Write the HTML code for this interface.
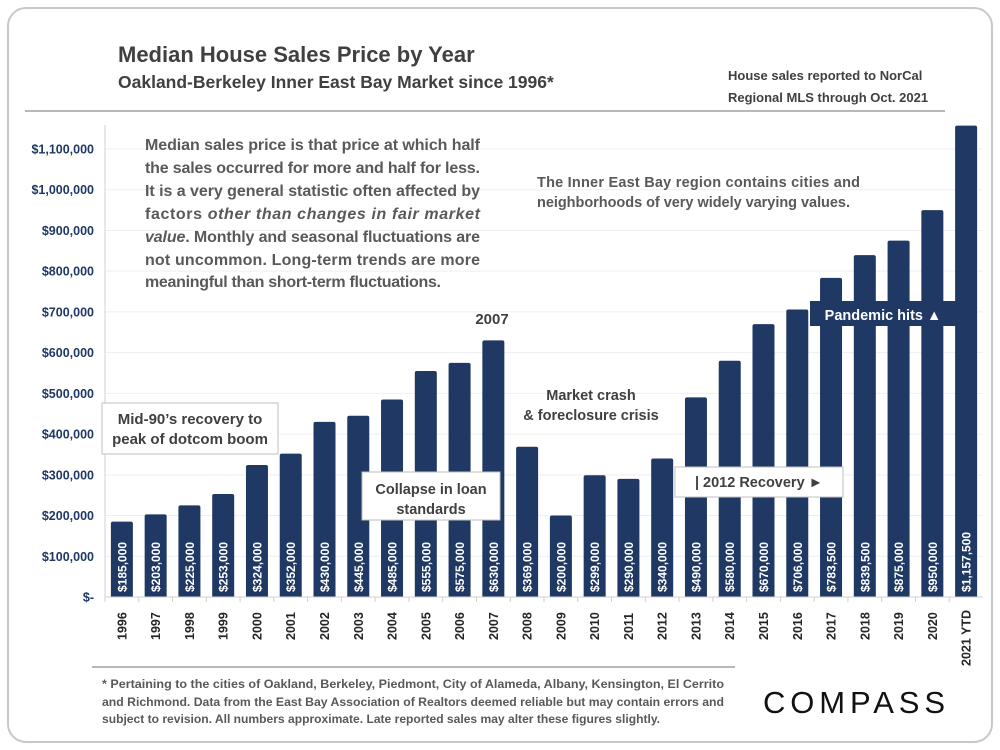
<!DOCTYPE html>
<html><head><meta charset="utf-8"><style>
html,body{margin:0;padding:0;background:#fff;}
svg{display:block;font-family:"Liberation Sans",sans-serif;}
</style></head><body>
<svg id="chart" width="1000" height="750" viewBox="0 0 1000 750">
<rect x="8" y="8" width="984" height="734" rx="18" fill="#fff" stroke="#c8c8c8" stroke-width="2"/>
<text x="118" y="62" font-size="22" font-weight="bold" fill="#404040">Median House Sales Price by Year</text>
<text x="118" y="88" font-size="17.5" font-weight="bold" fill="#404040">Oakland-Berkeley Inner East Bay Market since 1996*</text>
<text x="728" y="80" font-size="13" font-weight="bold" fill="#404040">House sales reported to NorCal</text>
<text x="728" y="102" font-size="13" font-weight="bold" fill="#404040">Regional MLS through Oct. 2021</text>
<line x1="25" y1="111" x2="945" y2="111" stroke="#a0a0a0" stroke-width="1.5"/>
<g id="grid"></g>
<g id="yaxis"></g>
<g id="bars"></g>
<g id="xaxis"></g>
<g font-size="16" font-weight="bold" fill="#595959">
<text x="145" y="150" textLength="335" lengthAdjust="spacing">Median sales price is that price at which half</text>
<text x="145" y="173" textLength="335" lengthAdjust="spacing">the sales occurred for more and half for less.</text>
<text x="145" y="196" textLength="335" lengthAdjust="spacing">It is a very general statistic often affected by</text>
<text x="145" y="219" textLength="335" lengthAdjust="spacing">factors <tspan font-style="italic">other than changes in fair market</tspan></text>
<text x="145" y="242" textLength="335" lengthAdjust="spacing"><tspan font-style="italic">value</tspan>. Monthly and seasonal fluctuations are</text>
<text x="145" y="265" textLength="335" lengthAdjust="spacing">not uncommon. Long-term trends are more</text>
<text x="145" y="287" textLength="296" lengthAdjust="spacing">meaningful than short-term fluctuations.</text>
</g>
<g font-size="14.5" font-weight="bold" fill="#595959">
<text x="537" y="187" textLength="323" lengthAdjust="spacing">The Inner East Bay region contains cities and</text>
<text x="537" y="207" textLength="313" lengthAdjust="spacing">neighborhoods of very widely varying values.</text>
</g>
<text x="492" y="324" font-size="15" font-weight="bold" fill="#404040" text-anchor="middle">2007</text>
<g>
<rect x="102" y="403" width="176" height="51" fill="#fff" stroke="#bfbfbf"/>
<text x="190" y="424" font-size="15" font-weight="bold" fill="#404040" text-anchor="middle">Mid-90’s recovery to</text>
<text x="190" y="444" font-size="15" font-weight="bold" fill="#404040" text-anchor="middle">peak of dotcom boom</text>
</g>
<g>
<rect x="362" y="472" width="138" height="48" fill="#fff" stroke="#bfbfbf"/>
<text x="431" y="494" font-size="14.5" font-weight="bold" fill="#404040" text-anchor="middle">Collapse in loan</text>
<text x="431" y="514" font-size="14.5" font-weight="bold" fill="#404040" text-anchor="middle">standards</text>
</g>
<g>
<text x="591" y="400" font-size="14.5" font-weight="bold" fill="#404040" text-anchor="middle">Market crash</text>
<text x="591" y="420" font-size="14.5" font-weight="bold" fill="#404040" text-anchor="middle">&amp; foreclosure crisis</text>
</g>
<g>
<rect x="675" y="467" width="168" height="30" fill="#fff" stroke="#bfbfbf"/>
<text x="759" y="487" font-size="14.5" font-weight="bold" fill="#404040" text-anchor="middle">| 2012 Recovery ►</text>
</g>
<g>
<rect x="810" y="301" width="147" height="25" fill="#1f3864"/>
<text x="883" y="320" font-size="14.5" font-weight="bold" fill="#fff" text-anchor="middle">Pandemic hits ▲</text>
</g>
<line x1="92" y1="667" x2="735" y2="667" stroke="#a0a0a0" stroke-width="1.5"/>
<g font-size="11.5" font-weight="bold" fill="#595959">
<text x="102" y="688" textLength="622" lengthAdjust="spacingAndGlyphs">* Pertaining to the cities of Oakland, Berkeley, Piedmont, City of Alameda, Albany, Kensington, El Cerrito</text>
<text x="102" y="706" textLength="622" lengthAdjust="spacingAndGlyphs">and Richmond. Data from the East Bay Association of Realtors deemed reliable but may contain errors and</text>
<text x="102" y="723" textLength="558" lengthAdjust="spacingAndGlyphs">subject to revision. All numbers approximate. Late reported sales may alter these figures slightly.</text>
</g>
<text x="763" y="713" font-size="31" fill="#111" textLength="182" lengthAdjust="spacing">COMPASS</text>
</svg>
<script>
const categories = ["1996","1997","1998","1999","2000","2001","2002","2003","2004","2005","2006","2007","2008","2009","2010","2011","2012","2013","2014","2015","2016","2017","2018","2019","2020","2021 YTD"];
const prices = [185000,203000,225000,253000,324000,352000,430000,445000,485000,555000,575000,630000,369000,200000,299000,290000,340000,490000,580000,670000,706000,783500,839500,875000,950000,1157500];
const priceLabels = ["$185,000","$203,000","$225,000","$253,000","$324,000","$352,000","$430,000","$445,000","$485,000","$555,000","$575,000","$630,000","$369,000","$200,000","$299,000","$290,000","$340,000","$490,000","$580,000","$670,000","$706,000","$783,500","$839,500","$875,000","$950,000","$1,157,500"];
const yTicks = [0,100000,200000,300000,400000,500000,600000,700000,800000,900000,1000000,1100000];
const yTickLabels = ["$-","$100,000","$200,000","$300,000","$400,000","$500,000","$600,000","$700,000","$800,000","$900,000","$1,000,000","$1,100,000"];

const NS="http://www.w3.org/2000/svg";
const X0=105, X1=983, Y0=597, YTOP=149, VTOP=1100000;
const band=(X1-X0)/categories.length, bw=22;
const y=v=>Y0-(v/VTOP)*(Y0-YTOP);
const xc=i=>X0+band*(i+0.5);
function mk(tag,attrs,parent){const e=document.createElementNS(NS,tag);for(const k in attrs)e.setAttribute(k,attrs[k]);parent.appendChild(e);return e;}
const grid=document.getElementById('grid'),ya=document.getElementById('yaxis'),bars=document.getElementById('bars'),xa=document.getElementById('xaxis');
yTicks.forEach((t,i)=>{
  if(t>0){const g=mk('line',{x1:X0,x2:X1,y1:y(t),y2:y(t),stroke:'#efefef','stroke-width':1},grid);
  
  }
  const tx=mk('text',{x:94,y:y(t)+4.5,'font-size':12.5,'font-weight':'bold',fill:'#1f3864','text-anchor':'end'},ya);
  tx.textContent=yTickLabels[i];
  
  
});
const ax=mk('line',{x1:X0,x2:X0,y1:125,y2:Y0,stroke:'#d0d0d0'},ya);


const xl=mk('line',{x1:X0,x2:X1,y1:Y0,y2:Y0,stroke:'#d0d0d0'},xa);


categories.forEach((c,i)=>{
  const cx=xc(i), top=y(prices[i]);
  const b=mk('path',{d:`M${cx-bw/2},${Y0} L${cx-bw/2},${top+2} Q${cx-bw/2},${top} ${cx-bw/2+2},${top} L${cx+bw/2-2},${top} Q${cx+bw/2},${top} ${cx+bw/2},${top+2} L${cx+bw/2},${Y0} Z`,fill:'#1f3864'},bars);
  
  
  const vl=mk('text',{x:0,y:0,transform:`translate(${cx+4.5},592) rotate(-90)`,'font-size':12,'font-weight':'bold',fill:'#fff'},bars);
  vl.textContent=priceLabels[i];
  
  
  const tk=mk('line',{x1:X0+band*i,x2:X0+band*i,y1:Y0,y2:Y0+5,stroke:'#d0d0d0'},xa);
  
  
  const t=mk('text',{x:0,y:0,transform:`translate(${cx+4.5},${c.length>4?666:640}) rotate(-90)`,'font-size':12.5,'font-weight':'bold',fill:'#262626'},xa);
  t.textContent=c;
  
  
});
</script>
</body></html>
